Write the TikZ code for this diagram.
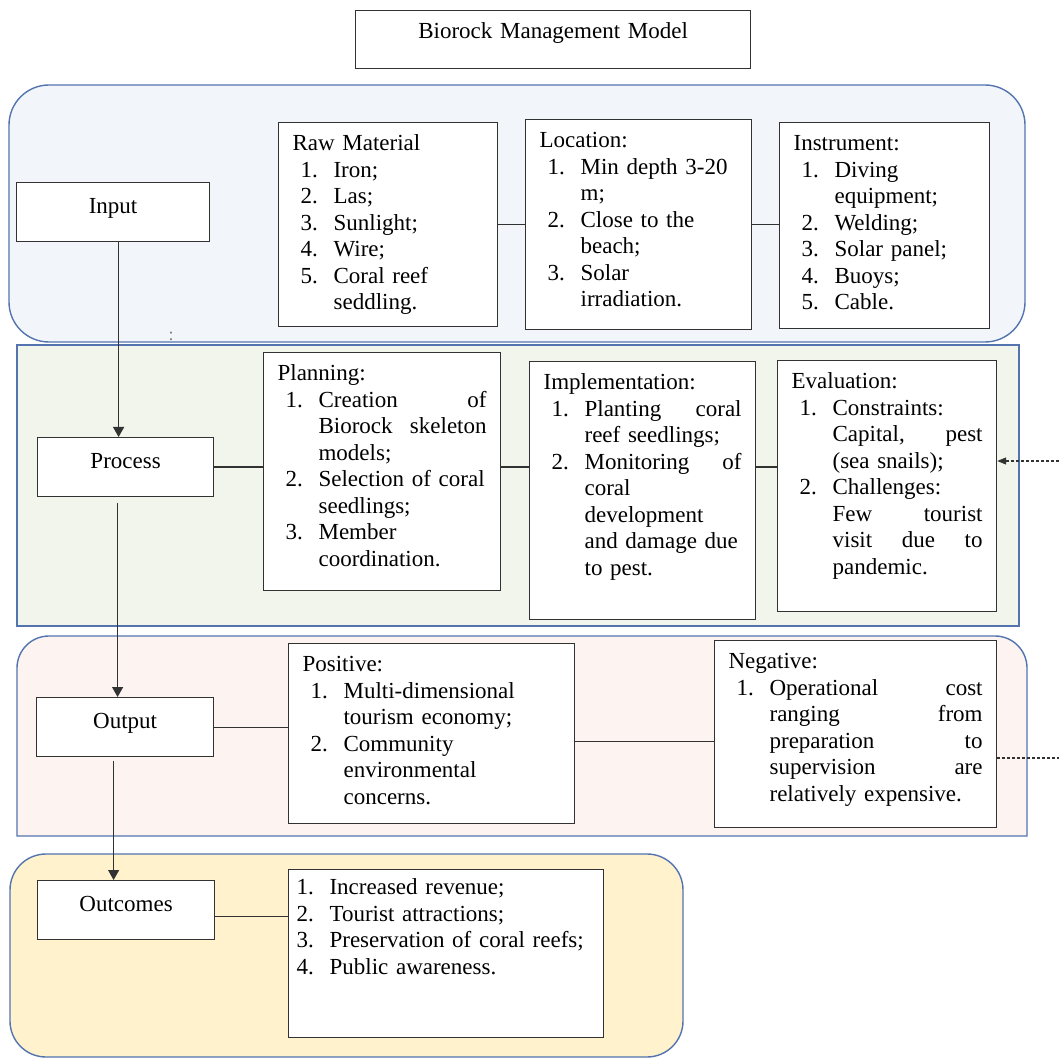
\documentclass[tikz,border=0pt]{standalone}
\usepackage{fontspec}
\setmainfont{Liberation Serif}
\usetikzlibrary{arrows.meta}

\definecolor{panelblue}{RGB}{84,116,176}
\definecolor{inputbg}{RGB}{242,246,251}
\definecolor{processbg}{RGB}{241,245,236}
\definecolor{outputbg}{RGB}{253,244,241}
\definecolor{outcomebg}{RGB}{255,242,204}
\definecolor{boxline}{RGB}{50,50,50}

\newcommand{\num}[1]{\makebox[16.5pt][l]{#1}}
\newcommand{\itm}[2]{\hspace*{4pt}\num{#1}#2}
\newcommand{\cnt}[1]{\hspace*{20.5pt}#1}

\tikzset{
  panel/.style={draw=panelblue, line width=0.7pt},
  stagebox/.style={draw=boxline, line width=0.6pt, fill=white, anchor=north west,
    align=center, text width=#1, inner xsep=7pt, inner ysep=7.5pt,
    text height=8pt, text depth=6.5pt},
  listbox/.style 2 args={draw=boxline, line width=0.6pt, fill=white, anchor=north west,
    align=left, text width=#1, inner xsep=7pt, inner ysep=6pt,
    text height=8pt, text depth=#2},
  link/.style={draw=boxline, line width=0.6pt},
  flow/.style={link, -{Triangle[length=5pt,width=5.5pt]}},
  feedback/.style={link, dash pattern=on 1.5pt off 1pt}
}

\begin{document}
\begin{tikzpicture}[x=0.5pt, y=-0.5pt, font=\fontsize{11.5}{13.25}\selectfont]
\useasboundingbox (0,0) rectangle (1059,1058);
\fill[white] (0,0) rectangle (1059,1058);

% stage panels
\draw[panel, fill=inputbg, rounded corners=20pt] (9,85) rectangle (1025,342);
\draw[panel, fill=processbg] (17,345) rectangle (1019,626);
\draw[panel, fill=outputbg] (17,836) -- (17,668) arc[start angle=180, end angle=90, radius=16pt]
  -- (995,636) arc[start angle=90, end angle=0, radius=16pt] -- (1027,836) -- cycle;
\draw[panel, fill=outcomebg, rounded corners=18pt] (10,854) rectangle (683,1057);

% title
\node[stagebox=183.5pt, inner ysep=6pt, text depth=9pt] (title) at (355,10) {Biorock Management Model};

% input
\node[stagebox=82.5pt] (input) at (16,182) {Input};
\node[listbox={95.5pt}{82pt}] (raw) at (278,122) {Raw Material\\
  \itm{1.}{Iron;}\\
  \itm{2.}{Las;}\\
  \itm{3.}{Sunlight;}\\
  \itm{4.}{Wire;}\\
  \itm{5.}{Coral reef}\\
  \cnt{seddling.}};
\node[listbox={99pt}{85pt}] (loc) at (525,119) {Location:\\
  \itm{1.}{Min depth 3-20}\\
  \cnt{m;}\\
  \itm{2.}{Close to the}\\
  \cnt{beach;}\\
  \itm{3.}{Solar}\\
  \cnt{irradiation.}};
\node[listbox={91pt}{83pt}] (instr) at (779,122) {Instrument:\\
  \itm{1.}{Diving}\\
  \cnt{equipment;}\\
  \itm{2.}{Welding;}\\
  \itm{3.}{Solar panel;}\\
  \itm{4.}{Buoys;}\\
  \itm{5.}{Cable.}};
\node[text=gray, font=\fontsize{9}{10}\selectfont] (colon) at (171,336) {:};

% process
\node[stagebox=74pt] (process) at (37,437) {Process};
\node[listbox={104.5pt}{99pt}] (plan) at (263,352) {Planning:\\
  \itm{1.}{Creation\hfill of}\\
  \cnt{Biorock\hfill skeleton}\\
  \cnt{models;}\\
  \itm{2.}{Selection of coral}\\
  \cnt{seedlings;}\\
  \itm{3.}{Member}\\
  \cnt{coordination.}};
\node[listbox={99pt}{109pt}] (impl) at (529,361) {Implementation:\\
  \itm{1.}{Planting\hfill coral}\\
  \cnt{reef seedlings;}\\
  \itm{2.}{Monitoring\hfill of}\\
  \cnt{coral}\\
  \cnt{development}\\
  \cnt{and damage due}\\
  \cnt{to pest.}};
\node[listbox={95.5pt}{105.5pt}] (eval) at (777,360) {Evaluation:\\
  \itm{1.}{Constraints:}\\
  \cnt{Capital,\hfill pest}\\
  \cnt{(sea snails);}\\
  \itm{2.}{Challenges:}\\
  \cnt{Few\hfill tourist}\\
  \cnt{visit\hfill due\hfill to}\\
  \cnt{pandemic.}};

% output
\node[stagebox=74.5pt] (output) at (36,697) {Output};
\node[listbox={129pt}{70pt}] (pos) at (288,643) {Positive:\\
  \itm{1.}{Multi-dimensional}\\
  \cnt{tourism economy;}\\
  \itm{2.}{Community}\\
  \cnt{environmental}\\
  \cnt{concerns.}};
\node[listbox={127pt}{73.5pt}] (neg) at (714,640) {Negative:\\
  \itm{1.}{Operational\hfill cost}\\
  \cnt{ranging\hfill from}\\
  \cnt{preparation\hfill to}\\
  \cnt{supervision\hfill are}\\
  \cnt{relatively expensive.}};

% outcomes
\node[stagebox=74.5pt] (outcomes) at (37,880) {Outcomes};
\node[listbox={149.5pt}{67pt}, inner xsep=4pt, inner ysep=4.5pt] (effects) at (288,869) {\num{1.}Increased revenue;\\
  \num{2.}Tourist attractions;\\
  \num{3.}Preservation of coral reefs;\\
  \num{4.}Public awareness.};

% stage flow
\draw[flow] ([xshift=2.75pt]input.south) -- ([xshift=2.75pt]input.south |- process.north);
\draw[flow] ([xshift=-4pt,yshift=-3pt]process.south) -- ([xshift=-4pt]process.south |- output.north);
\draw[flow] ([xshift=-5.75pt,yshift=-2pt]output.south) -- ([xshift=-5.75pt]output.south |- outcomes.north);

% links inside stages
\draw[link] (raw.east) -- (raw.east -| loc.west);
\draw[link] (loc.east) -- (loc.east -| instr.west);
\draw[link] (process.east) -- (process.east -| plan.west);
\draw[link] (process.east -| plan.east) -- (process.east -| impl.west);
\draw[link] (process.east -| impl.east) -- (process.east -| eval.west);
\draw[link] (output.east) -- (output.east -| pos.west);
\draw[link] ([yshift=-4pt]pos.east) -- ([yshift=-4pt]pos.east -| neg.west);
\draw[link] ([yshift=-3pt]outcomes.east) -- ([yshift=-3pt]outcomes.east -| effects.west);

% dotted ends
\coordinate (evalin) at (1059,461);
\coordinate (negout) at (1059,758);
\draw[feedback, -{Triangle[length=4.5pt,width=3.5pt]}] (evalin) -- (evalin -| eval.east);
\draw[feedback] (negout -| neg.east) -- (negout);
\end{tikzpicture}
\end{document}
